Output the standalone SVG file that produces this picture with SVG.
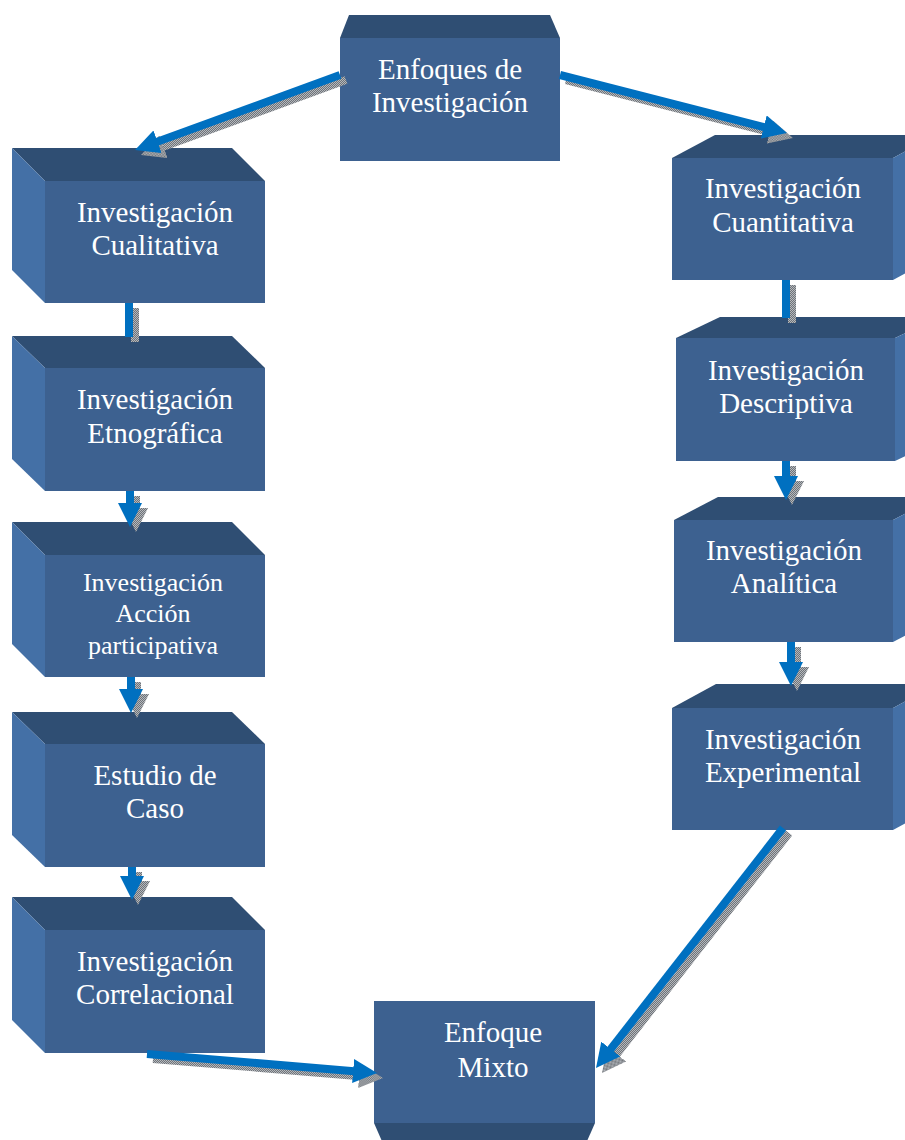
<svg xmlns="http://www.w3.org/2000/svg" width="905" height="1140" viewBox="0 0 905 1140">
<style>
.front{fill:#3d6190;}
.top{fill:#2f4e73;}
.side{fill:#4470a6;}
.lbl{font-size:29px;fill:#ffffff;text-anchor:middle;}
.lbl2{font-size:26px;fill:#ffffff;text-anchor:middle;}
.arr{stroke:#0070c0;stroke-width:8;fill:none;}
.sh{stroke:url(#dots);stroke-width:8;fill:none;}
</style>
<defs>
<pattern id="dots" patternUnits="userSpaceOnUse" width="2" height="2">
<rect width="2" height="2" fill="#b4b8bd"/>
<rect width="1" height="1" fill="#6f7378"/>
<rect x="1" y="1" width="1" height="1" fill="#6f7378"/>
</pattern>
<marker id="hb" viewBox="0 0 24 24" refX="4" refY="12" markerUnits="userSpaceOnUse" markerWidth="24" markerHeight="24" orient="auto">
<path d="M0,0 L24,12 L0,24 z" fill="#0070c0"/>
</marker>
<marker id="hs" viewBox="0 0 24 24" refX="4" refY="12" markerUnits="userSpaceOnUse" markerWidth="24" markerHeight="24" orient="auto">
<path d="M0,0 L24,12 L0,24 z" fill="url(#dots)"/>
</marker>
</defs>
<rect width="905" height="1140" fill="#ffffff"/>

<g font-family="'Liberation Serif', 'Times New Roman', serif">
<g id="n-enfoques">
<polygon class="top" points="349,15 550,15 560,38 340,38"/>
<rect class="front" x="340" y="38" width="220" height="123"/>
<text class="lbl" x="450" y="79">Enfoques de</text>
<text class="lbl" x="450" y="112">Investigación</text>
</g>

<g id="n-cualitativa">
<polygon class="top" points="12,148 232,148 265,181 45,181"/>
<polygon class="side" points="12,148 45,181 45,303 12,270"/>
<rect class="front" x="45" y="181" width="220" height="122"/>
<text class="lbl" x="155" y="222">Investigación</text>
<text class="lbl" x="155" y="255">Cualitativa</text>
</g>

<g id="n-etnografica">
<polygon class="top" points="12,336 232,336 265,368 45,368"/>
<polygon class="side" points="12,336 45,368 45,491 12,459"/>
<rect class="front" x="45" y="368" width="220" height="123"/>
<text class="lbl" x="155" y="409">Investigación</text>
<text class="lbl" x="155" y="443">Etnográfica</text>
</g>

<g id="n-accion">
<polygon class="top" points="12,522 232,522 265,555 45,555"/>
<polygon class="side" points="12,522 45,555 45,677 12,644"/>
<rect class="front" x="45" y="555" width="220" height="122"/>
<text class="lbl2" x="153" y="591">Investigación</text>
<text class="lbl2" x="153" y="622">Acción</text>
<text class="lbl2" x="153" y="654">participativa</text>
</g>

<g id="n-estudio">
<polygon class="top" points="12,712 232,712 265,744 45,744"/>
<polygon class="side" points="12,712 45,744 45,867 12,835"/>
<rect class="front" x="45" y="744" width="220" height="123"/>
<text class="lbl" x="155" y="785">Estudio de</text>
<text class="lbl" x="155" y="818">Caso</text>
</g>

<g id="n-correlacional">
<polygon class="top" points="12,897 232,897 265,930 45,930"/>
<polygon class="side" points="12,897 45,930 45,1053 12,1020"/>
<rect class="front" x="45" y="930" width="220" height="123"/>
<text class="lbl" x="155" y="971">Investigación</text>
<text class="lbl" x="155" y="1004">Correlacional</text>
</g>

<g id="n-cuantitativa">
<polygon class="top" points="672,158 715,135 936,135 893,158"/>
<polygon class="side" points="893,158 936,135 936,257 893,280"/>
<rect class="front" x="672" y="158" width="221" height="122"/>
<text class="lbl" x="783" y="198">Investigación</text>
<text class="lbl" x="783" y="232">Cuantitativa</text>
</g>

<g id="n-descriptiva">
<polygon class="top" points="676,338 720,317 939,317 895,338"/>
<polygon class="side" points="895,338 939,317 939,440 895,461"/>
<rect class="front" x="676" y="338" width="219" height="123"/>
<text class="lbl" x="786" y="380">Investigación</text>
<text class="lbl" x="786" y="413">Descriptiva</text>
</g>

<g id="n-analitica">
<polygon class="top" points="674,520 718,497 937,497 893,520"/>
<polygon class="side" points="893,520 937,497 937,619 893,642"/>
<rect class="front" x="674" y="520" width="219" height="122"/>
<text class="lbl" x="784" y="560">Investigación</text>
<text class="lbl" x="784" y="593">Analítica</text>
</g>

<g id="n-experimental">
<polygon class="top" points="672,708 716,684 937,684 893,708"/>
<polygon class="side" points="893,708 937,684 937,806 893,830"/>
<rect class="front" x="672" y="708" width="221" height="122"/>
<text class="lbl" x="783" y="749">Investigación</text>
<text class="lbl" x="783" y="782">Experimental</text>
</g>

<g id="n-mixto">
<polygon class="top" points="374,1123 595,1123 584,1148 385,1148"/>
<rect class="front" x="374" y="1001" width="221" height="122"/>
<text class="lbl" x="493" y="1042">Enfoque</text>
<text class="lbl" x="493" y="1077">Mixto</text>
</g>
</g>

<g id="connectors">
<g transform="translate(6,5)">
<line class="sh" x1="340" y1="75" x2="153.8" y2="143.1" marker-end="url(#hs)"/>
<line class="sh" x1="560" y1="75" x2="767.6" y2="128" marker-end="url(#hs)"/>
<line class="sh" x1="129" y1="303" x2="129" y2="337"/>
<line class="sh" x1="130" y1="491" x2="130" y2="507" marker-end="url(#hs)"/>
<line class="sh" x1="131" y1="677" x2="131" y2="693" marker-end="url(#hs)"/>
<line class="sh" x1="132" y1="867" x2="132" y2="880" marker-end="url(#hs)"/>
<line class="sh" x1="786" y1="280" x2="786" y2="318"/>
<line class="sh" x1="786" y1="461" x2="786" y2="480" marker-end="url(#hs)"/>
<line class="sh" x1="791" y1="642" x2="791" y2="666" marker-end="url(#hs)"/>
<line class="sh" x1="783" y1="828" x2="608.3" y2="1052.2" marker-end="url(#hs)"/>
<line class="sh" x1="147" y1="1054" x2="357.1" y2="1071.4" marker-end="url(#hs)"/>
</g>
<line class="arr" x1="340" y1="75" x2="153.8" y2="143.1" marker-end="url(#hb)"/>
<line class="arr" x1="560" y1="75" x2="767.6" y2="128" marker-end="url(#hb)"/>
<line class="arr" x1="129" y1="303" x2="129" y2="337"/>
<line class="arr" x1="130" y1="491" x2="130" y2="507" marker-end="url(#hb)"/>
<line class="arr" x1="131" y1="677" x2="131" y2="693" marker-end="url(#hb)"/>
<line class="arr" x1="132" y1="867" x2="132" y2="880" marker-end="url(#hb)"/>
<line class="arr" x1="786" y1="280" x2="786" y2="318"/>
<line class="arr" x1="786" y1="461" x2="786" y2="480" marker-end="url(#hb)"/>
<line class="arr" x1="791" y1="642" x2="791" y2="666" marker-end="url(#hb)"/>
<line class="arr" x1="783" y1="828" x2="608.3" y2="1052.2" marker-end="url(#hb)"/>
<line class="arr" x1="147" y1="1054" x2="357.1" y2="1071.4" marker-end="url(#hb)"/>
</g>
</svg>
